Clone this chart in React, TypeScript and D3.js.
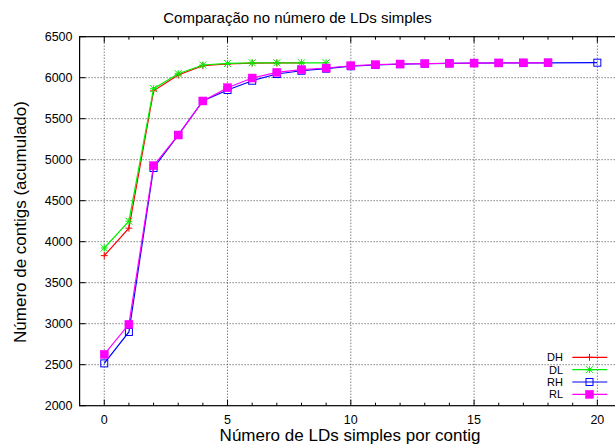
import React from "react";
import * as d3 from "d3";

const title = "Comparação no número de LDs simples";
const xLabel = "Número de LDs simples por contig";
const yLabel = "Número de contigs (acumulado)";

const dhX = [0, 1, 2, 3, 4, 5, 6, 7, 8];
const dhY = [3830, 4165, 5840, 6033, 6146, 6167, 6178, 6180, 6180];
const dlX = [0, 1, 2, 3, 4, 5, 6, 7, 8, 9];
const dlY = [3923, 4250, 5866, 6049, 6155, 6174, 6182, 6182, 6182, 6182];
const rhX = [0, 1, 2, 3, 4, 5, 6, 7, 8, 9, 10, 11, 12, 13, 14, 15, 16, 17, 18, 20];
const rhY = [2516, 2899, 4899, 5301, 5716, 5850, 5963, 6045, 6085, 6110, 6140, 6155, 6165, 6170, 6175, 6178, 6180, 6181, 6182, 6183];
const rlX = [0, 1, 2, 3, 4, 5, 6, 7, 8, 9, 10, 11, 12, 13, 14, 15, 16, 17, 18];
const rlY = [2626, 2992, 4927, 5301, 5716, 5878, 5996, 6065, 6098, 6118, 6146, 6159, 6167, 6171, 6176, 6178, 6180, 6181, 6182];

const xMajorTicks = [0, 5, 10, 15, 20];
const xMinorTicks = d3.range(-1, 22, 1);
const yTicks = [2000, 2500, 3000, 3500, 4000, 4500, 5000, 5500, 6000, 6500];

const seriesNames = ["DH", "DL", "RH", "RL"];
const seriesColors = ["#ff0000", "#00ee00", "#0000ff", "#ff00ff"];

const W = 615, H = 446;
const L = 79.6, R = 622, T = 36.7, B = 405.7;

function Marker({ kind, x, y, color }: { kind: number; x: number; y: number; color: string }) {
  const s = 3.5;
  if (kind === 0) {
    return <path d={`M${x - s},${y}H${x + s}M${x},${y - s}V${y + s}`} stroke={color} strokeWidth={1} fill="none" />;
  }
  if (kind === 1) {
    return (
      <path
        d={`M${x - s},${y}H${x + s}M${x},${y - s}V${y + s}M${x - s},${y - s}L${x + s},${y + s}M${x - s},${y + s}L${x + s},${y - s}`}
        stroke={color}
        strokeWidth={1}
        fill="none"
      />
    );
  }
  if (kind === 2) {
    return <rect x={x - 3.5} y={y - 3.5} width={7} height={7} stroke={color} strokeWidth={1} fill="none" />;
  }
  return <rect x={x - 4} y={y - 4} width={8} height={8} fill={color} stroke={color} strokeWidth={0.5} />;
}

export default function App() {
  const x = d3.scaleLinear().domain([-1, 21]).range([L, R]);
  const y = d3.scaleLinear().domain([2000, 6500]).range([B, T]);
  const line = d3
    .line<[number, number]>()
    .x((d) => x(d[0]))
    .y((d) => y(d[1]));

  const series = [
    { xs: dhX, ys: dhY },
    { xs: dlX, ys: dlY },
    { xs: rhX, ys: rhY },
    { xs: rlX, ys: rlY },
  ].map((s) => s.xs.map((v, i) => [v, s.ys[i]] as [number, number]));

  const font = "'Liberation Sans', Arial, Helvetica, sans-serif";

  return (
    <svg
      width={W}
      height={H}
      style={{ position: "absolute", left: 0, top: 0, background: "#fff" }}
      fontFamily={font}
    >
      <rect x={0} y={0} width={W} height={H} fill="#fff" />
      {xMajorTicks.map((t) => (
        <line key={"gx" + t} x1={x(t)} x2={x(t)} y1={T} y2={B} stroke="#444" strokeWidth={1} strokeDasharray="1,2" />
      ))}
      {yTicks.slice(1, -1).map((t) => (
        <line key={"gy" + t} x1={L} x2={R} y1={y(t)} y2={y(t)} stroke="#444" strokeWidth={1} strokeDasharray="1,2" />
      ))}
      {xMinorTicks.map((t) => {
        const major = t % 5 === 0;
        const len = major ? 6 : 3;
        return (
          <g key={"tx" + t}>
            <line x1={x(t)} x2={x(t)} y1={B} y2={B - len} stroke="#000" strokeWidth={1} />
            <line x1={x(t)} x2={x(t)} y1={T} y2={T + len} stroke="#000" strokeWidth={1} />
          </g>
        );
      })}
      {yTicks.map((t) => (
        <line key={"ty" + t} x1={L} x2={L + 6} y1={y(t)} y2={y(t)} stroke="#000" strokeWidth={1} />
      ))}
      <rect x={L} y={T} width={R - L} height={B - T} fill="none" stroke="#000" strokeWidth={1.2} />
      {xMajorTicks.map((t) => (
        <text key={"lx" + t} x={x(t)} y={424} textAnchor="middle" fontSize={12.5} fill="#000">
          {t}
        </text>
      ))}
      {yTicks.map((t) => (
        <text key={"ly" + t} x={72.5} y={y(t) + 4.5} textAnchor="end" fontSize={12.5} fill="#000">
          {t}
        </text>
      ))}
      {series.map((pts, i) => (
        <g key={"s" + i}>
          <path d={line(pts) || ""} fill="none" stroke={seriesColors[i]} strokeWidth={1.2} />
          {pts.map((p, j) => (
            <Marker key={j} kind={i} x={x(p[0])} y={y(p[1])} color={seriesColors[i]} />
          ))}
        </g>
      ))}
      {seriesNames.map((n, i) => {
        const ly = 357.3 + i * 12.35;
        return (
          <g key={"lg" + n}>
            <text x={563} y={ly + 4} textAnchor="end" fontSize={11} fill="#000">
              {n}
            </text>
            <line x1={572.3} x2={607.3} y1={ly} y2={ly} stroke={seriesColors[i]} strokeWidth={1.2} />
            <Marker kind={i} x={589.5} y={ly} color={seriesColors[i]} />
          </g>
        );
      })}
      <text x={297.5} y={23} textAnchor="middle" fontSize={15} fill="#000">
        {title}
      </text>
      <text x={350} y={441} textAnchor="middle" fontSize={17} fill="#000">
        {xLabel}
      </text>
      <text transform={`translate(26,222) rotate(-90)`} textAnchor="middle" fontSize={17} fill="#000">
        {yLabel}
      </text>
    </svg>
  );
}
